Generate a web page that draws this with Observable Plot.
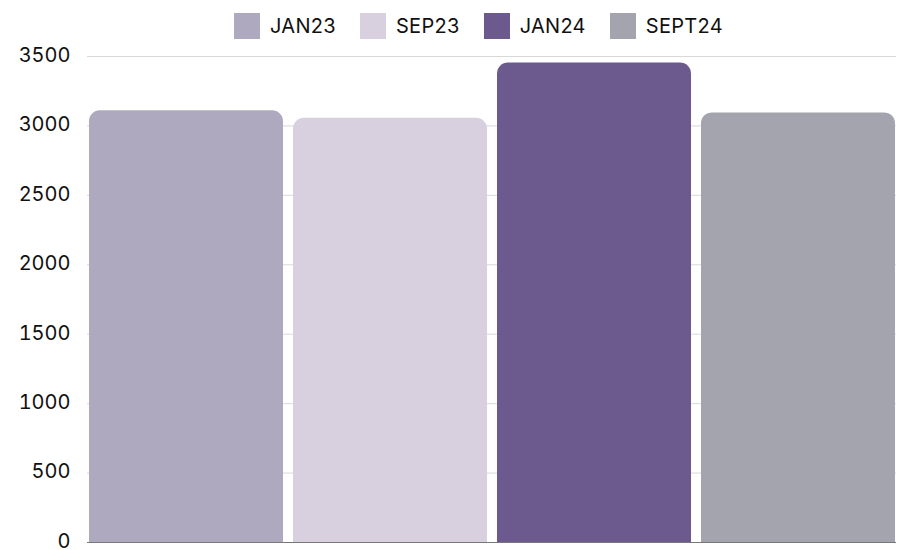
<!DOCTYPE html>
<html>
<head>
<meta charset="utf-8">
<script src="https://cdn.jsdelivr.net/npm/d3@7"></script>
<script src="https://cdn.jsdelivr.net/npm/@observablehq/plot@0.6"></script>
<style>
  html, body { margin: 0; padding: 0; background: #fff; }
  body { width: 900px; height: 550px; overflow: hidden; font-family: Inter, "Noto Sans", sans-serif; }
  #legend { display: flex; justify-content: center; align-items: flex-start; height: 40px; padding-top: 13px; padding-left: 57px; box-sizing: border-box; }
  .item { display: flex; align-items: center; margin: 0 12px; font-size: 20px; line-height: 26px; color: #111; letter-spacing: 0.3px; }
  .sw { width: 26px; height: 26px; margin-right: 10px; }
  #chart svg { display: block; }
</style>
</head>
<body>
<div id="legend"></div>
<div id="chart"></div>
<script>
const categories = ["JAN23", "SEP23", "JAN24", "SEPT24"];
const values = [3110, 3055, 3453, 3094];
const colors = ["#aea9be", "#d8cfdf", "#6c5a8f", "#a3a4ae"];
const yTicks = [0, 500, 1000, 1500, 2000, 2500, 3000, 3500];

const data = categories.map((c, i) => ({ cat: c, value: values[i] }));

const legend = document.getElementById("legend");
categories.forEach((c, i) => {
  const it = document.createElement("div");
  it.className = "item";
  const sw = document.createElement("div");
  sw.className = "sw";
  sw.style.background = colors[i];
  const t = document.createElement("span");
  t.textContent = c;
  it.appendChild(sw); it.appendChild(t);
  legend.appendChild(it);
});

const chart = Plot.plot({
  width: 900,
  height: 510,
  marginTop: 16,
  marginBottom: 8,
  marginLeft: 87,
  marginRight: 4,
  style: { fontFamily: "Inter, 'Noto Sans', sans-serif", fontSize: "20px", color: "#111", background: "#fff", overflow: "visible" },
  x: { domain: categories, axis: null, paddingInner: 0.05, paddingOuter: 0 },
  y: { domain: [0, 3500], ticks: yTicks, tickSize: 0, tickPadding: 17, label: null },
  color: { domain: categories, range: colors },
  marks: [
    Plot.gridY(yTicks, { stroke: "#d8d8d8", strokeOpacity: 1, strokeWidth: 1 }),
    Plot.axisY(yTicks, { tickSize: 0, tickPadding: 17, fontSize: 20, fill: "#111", label: null, tickFormat: "d", dy: -1, style: "letter-spacing:0.9px" }),
    Plot.ruleY([0], { stroke: "#777", strokeWidth: 1 }),
    Plot.barY(data, { x: "cat", y: "value", fill: "cat", rx: 11 }),
    Plot.barY(data, { x: "cat", y1: 0, y2: d => d.value / 2, fill: "cat" })
  ]
});
document.getElementById("chart").appendChild(chart);
</script>
</body>
</html>
